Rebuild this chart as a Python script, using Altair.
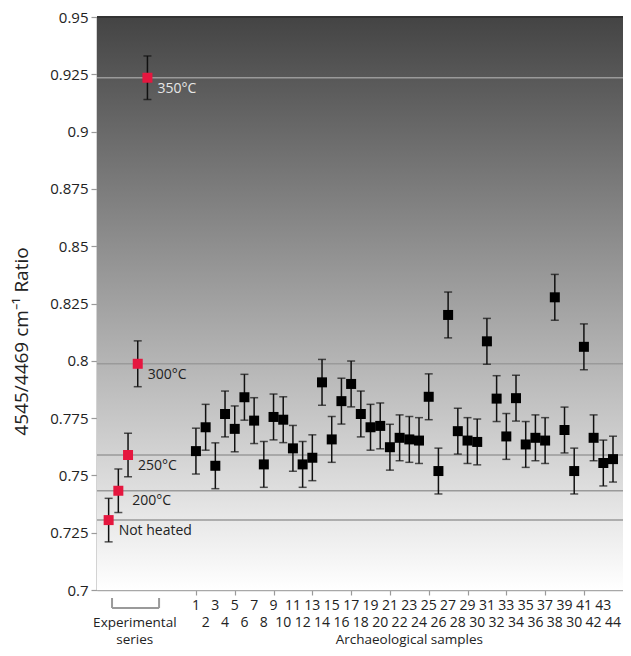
import altair as alt
import pandas as pd

# ---------------- data ----------------
exp_labels = ["Not heated", "200°C", "250°C", "300°C", "350°C"]
exp_pos = [1, 2, 3, 4, 5]
exp_values = [0.7305, 0.7433, 0.7589, 0.7987, 0.9235]
exp_errors = [0.0095, 0.0095, 0.0095, 0.0100, 0.0095]

sample_tick_labels = [
    "1", "2", "3", "4", "5", "6", "7", "8", "9", "10", "11",
    "12", "13", "14", "15", "16", "17", "18", "19", "20", "21", "22",
    "23", "24", "25", "26", "27", "28", "29", "30", "31", "32", "33",
    "34", "35", "36", "37", "38", "39", "30", "41", "42", "43", "44",
]
sample_values = [
    0.7606, 0.7710, 0.7542, 0.7768, 0.7703, 0.7841, 0.7739, 0.7548, 0.7755, 0.7743, 0.7618,
    0.7548, 0.7577, 0.7906, 0.7657, 0.7824, 0.7899, 0.7768, 0.7710, 0.7716, 0.7623, 0.7664,
    0.7657, 0.7652, 0.7843, 0.7519, 0.8200, 0.7693, 0.7652, 0.7646, 0.8085, 0.7835, 0.7670,
    0.7837, 0.7635, 0.7664, 0.7652, 0.8277, 0.7698, 0.7519, 0.8061, 0.7664, 0.7554, 0.7571,
]
sample_errors = [
    0.0100, 0.0100, 0.0100, 0.0100, 0.0100, 0.0100, 0.0100, 0.0100, 0.0100, 0.0100, 0.0100,
    0.0100, 0.0100, 0.0100, 0.0100, 0.0100, 0.0100, 0.0100, 0.0100, 0.0100, 0.0100, 0.0100,
    0.0100, 0.0100, 0.0100, 0.0100, 0.0100, 0.0100, 0.0100, 0.0100, 0.0100, 0.0100, 0.0100,
    0.0100, 0.0100, 0.0100, 0.0100, 0.0100, 0.0100, 0.0100, 0.0100, 0.0100, 0.0100, 0.0100,
]
y_ticks = [0.7, 0.725, 0.75, 0.775, 0.8, 0.825, 0.85, 0.875, 0.9, 0.925, 0.95]

# ---------------- frames ----------------
W, H = 526, 573
FONT = "Open Sans"
TXT = "#222222"
GRID = "#9a9a9a"

exp_df = pd.DataFrame({"pos": exp_pos, "value": exp_values, "err": exp_errors, "label": exp_labels})
exp_df["lo"] = exp_df["value"] - exp_df["err"]
exp_df["hi"] = exp_df["value"] + exp_df["err"]
exp_df["tcolor"] = ["#222222", "#222222", "#222222", "#222222", "#e6e6e6"]

samp_df = pd.DataFrame({
    "pos": list(range(10, 10 + len(sample_values))),
    "value": sample_values,
    "err": sample_errors,
    "tick": sample_tick_labels,
})
samp_df["lo"] = samp_df["value"] - samp_df["err"]
samp_df["hi"] = samp_df["value"] + samp_df["err"]
samp_df["row"] = [i % 2 for i in range(len(samp_df))]

xs = alt.Scale(domain=[-0.2, 54.03], nice=False, zero=False)
ys = alt.Scale(domain=[0.7, 0.95], nice=False, zero=False)

x_axis = alt.Axis(
    values=list(samp_df["pos"]), labels=False, title=None, grid=False,
    tickSize=5, tickColor=GRID, tickWidth=1.2, domainColor="#a8a8a8", domainWidth=1.5,
)
y_axis = alt.Axis(
    values=y_ticks, format=".3~f", grid=False,
    labelFont=FONT, labelFontSize=15, labelColor=TXT, labelPadding=3,
    tickSize=6, tickColor=GRID, tickWidth=1.2, domainColor="#a8a8a8", domainWidth=2,
    title="4545/4469 cm⁻¹ Ratio", titleFont=FONT, titleFontSize=19,
    titleFontWeight="normal", titleColor=TXT, titleAngle=270,
    titleX=-76, titleY=324, titleBaseline="middle", titleAlign="center",
)

# background gradient
bg = alt.Chart(pd.DataFrame({"a": [0]})).mark_rect(
    color=alt.Gradient(
        gradient="linear",
        stops=[alt.GradientStop(color="#444444", offset=0),
               alt.GradientStop(color="#ffffff", offset=1)],
        x1=0, x2=0, y1=0, y2=1,
    )
).encode(x=alt.value(0), x2=alt.value(W), y=alt.value(0), y2=alt.value(H))

top_line = alt.Chart(pd.DataFrame({"a": [0]})).mark_rule(color="#333333", strokeWidth=2).encode(
    y=alt.datum(0.95, scale=ys)
)

ref_lines = alt.Chart(exp_df).mark_rule(color=GRID, strokeWidth=1.5).encode(
    y=alt.Y("value:Q", scale=ys, axis=y_axis)
)

all_df = pd.concat([exp_df[["pos", "value", "lo", "hi"]], samp_df[["pos", "value", "lo", "hi"]]])

err_rules = alt.Chart(all_df).mark_rule(color="#111111", strokeWidth=1.5).encode(
    x=alt.X("pos:Q", scale=xs, axis=x_axis), y=alt.Y("lo:Q", scale=ys), y2="hi:Q"
)
cap_lo = alt.Chart(all_df).mark_tick(orient="horizontal", size=8, thickness=1.5, color="#111111").encode(
    x=alt.X("pos:Q", scale=xs), y=alt.Y("lo:Q", scale=ys)
)
cap_hi = alt.Chart(all_df).mark_tick(orient="horizontal", size=8, thickness=1.5, color="#111111").encode(
    x=alt.X("pos:Q", scale=xs), y=alt.Y("hi:Q", scale=ys)
)

samp_pts = alt.Chart(samp_df).mark_square(size=100, color="#000000", opacity=1).encode(
    x=alt.X("pos:Q", scale=xs), y=alt.Y("value:Q", scale=ys)
)
exp_pts = alt.Chart(exp_df).mark_square(size=100, color="#e5173f", opacity=1).encode(
    x=alt.X("pos:Q", scale=xs), y=alt.Y("value:Q", scale=ys)
)

lab_main = alt.Chart(exp_df).transform_filter(alt.datum.label != "200°C").mark_text(
    align="left", baseline="middle", dx=10, dy=11, font=FONT, fontSize=14
).encode(
    x=alt.X("pos:Q", scale=xs), y=alt.Y("value:Q", scale=ys), text="label:N",
    color=alt.Color("tcolor:N", scale=None),
)
lab_200 = alt.Chart(exp_df).transform_filter(alt.datum.label == "200°C").mark_text(
    align="left", baseline="middle", dx=14, dy=10, font=FONT, fontSize=14, color=TXT
).encode(x=alt.X("pos:Q", scale=xs), y=alt.Y("value:Q", scale=ys), text="label:N")

tick_odd = alt.Chart(samp_df).transform_filter(alt.datum.row == 0).mark_text(
    baseline="middle", font=FONT, fontSize=14, color=TXT
).encode(x=alt.X("pos:Q", scale=xs), y=alt.value(H + 16), text="tick:N")
tick_even = alt.Chart(samp_df).transform_filter(alt.datum.row == 1).mark_text(
    baseline="middle", font=FONT, fontSize=14, color=TXT
).encode(x=alt.X("pos:Q", scale=xs), y=alt.value(H + 33), text="tick:N")

# bracket under experimental series
br = pd.DataFrame({"a": [1.35], "b": [6.2]})
br_h = alt.Chart(br).mark_rule(color=GRID, strokeWidth=2).encode(
    x=alt.X("a:Q", scale=xs), x2="b:Q", y=alt.value(H + 18)
)
br_l = alt.Chart(br).mark_rule(color=GRID, strokeWidth=2).encode(
    x=alt.X("a:Q", scale=xs), y=alt.value(H + 8), y2=alt.value(H + 18)
)
br_r = alt.Chart(br).mark_rule(color=GRID, strokeWidth=2).encode(
    x=alt.X("b:Q", scale=xs), y=alt.value(H + 8), y2=alt.value(H + 18)
)

grp = pd.DataFrame({"x": [3.7, 3.7, 32.0], "t": ["Experimental", "series", "Archaeological samples"],
                    "row": [0, 1, 1]})
grp0 = alt.Chart(grp).transform_filter(alt.datum.row == 0).mark_text(
    baseline="middle", font=FONT, fontSize=13.5, color=TXT
).encode(x=alt.X("x:Q", scale=xs), y=alt.value(H + 33), text="t:N")
grp1 = alt.Chart(grp).transform_filter(alt.datum.row == 1).mark_text(
    baseline="middle", font=FONT, fontSize=13.5, color=TXT
).encode(x=alt.X("x:Q", scale=xs), y=alt.value(H + 50), text="t:N")

chart = alt.layer(
    bg, ref_lines, top_line, err_rules, cap_lo, cap_hi, samp_pts, exp_pts,
    lab_main, lab_200, tick_odd, tick_even, br_h, br_l, br_r, grp0, grp1,
).properties(
    width=W, height=H,
    autosize=alt.AutoSizeParams(type="none"),
    padding={"left": 89, "top": 9, "right": 0, "bottom": 58},
).configure_view(stroke=None).configure(background="white")

chart.save("out.html", embed_options={"renderer": "svg", "actions": False})
